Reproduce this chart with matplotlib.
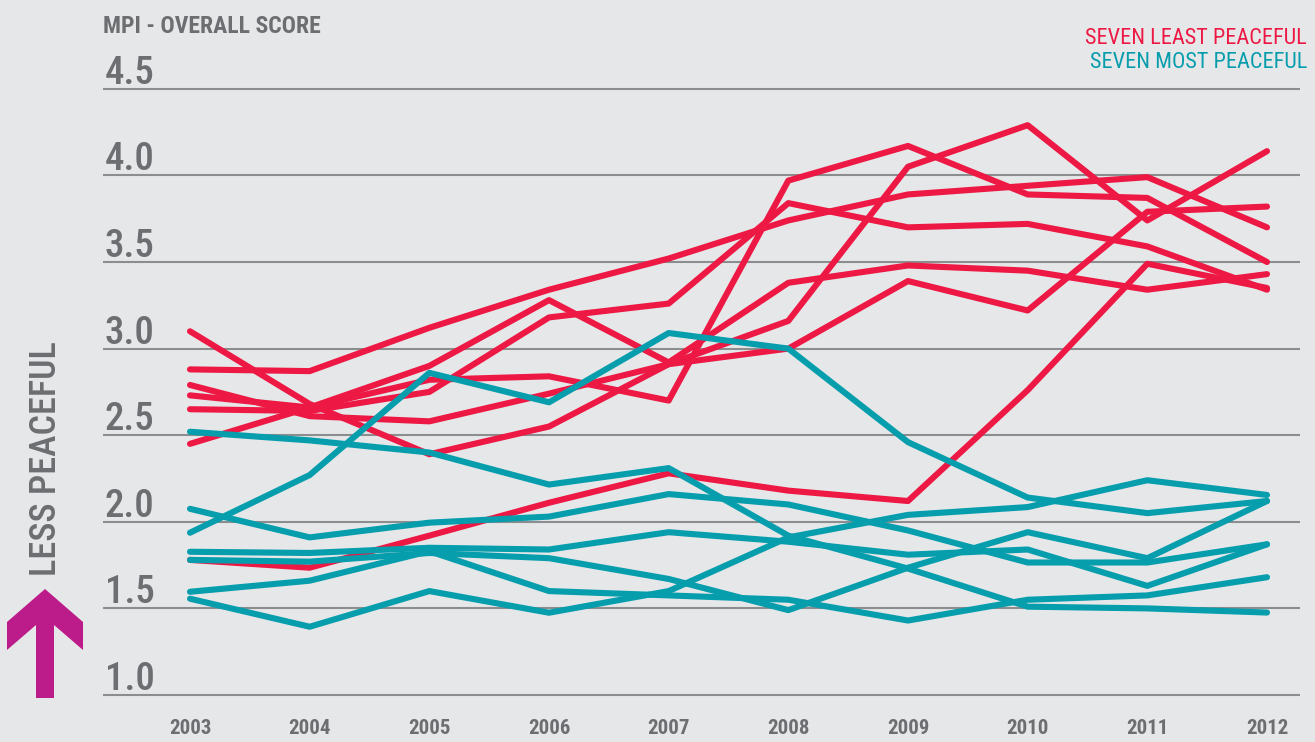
import matplotlib
matplotlib.use("Agg")
import matplotlib.pyplot as plt
from matplotlib import transforms
from matplotlib.patches import Polygon

# Datos (MPI - overall score)
anios = [2003, 2004, 2005, 2006, 2007, 2008, 2009, 2010, 2011, 2012]

# siete menos pacificos
menos_1 = [3.10, 2.68, 2.39, 2.55, 2.91, 3.16, 4.05, 4.29, 3.74, 4.14]
menos_2 = [2.88, 2.87, 3.12, 3.34, 3.52, 3.74, 3.89, 3.94, 3.99, 3.70]
menos_3 = [2.79, 2.61, 2.58, 2.74, 2.91, 3.00, 3.39, 3.22, 3.79, 3.82]
menos_4 = [2.73, 2.66, 2.82, 2.84, 2.70, 3.97, 4.17, 3.89, 3.87, 3.50]
menos_5 = [2.65, 2.64, 2.75, 3.18, 3.26, 3.84, 3.70, 3.72, 3.59, 3.34]
menos_6 = [2.45, 2.66, 2.90, 3.28, 2.92, 3.38, 3.48, 3.45, 3.34, 3.43]
menos_7 = [1.78, 1.735, 1.92, 2.11, 2.28, 2.18, 2.12, 2.76, 3.49, 3.35]

# siete mas pacificos
mas_1 = [2.52, 2.47, 2.40, 2.215, 2.31, 1.92, 1.73, 1.51, 1.50, 1.476]
mas_2 = [2.075, 1.91, 1.995, 2.03, 2.16, 2.10, 1.95, 1.765, 1.765, 1.87]
mas_3 = [1.937, 2.27, 2.86, 2.69, 3.09, 3.00, 2.46, 2.14, 2.05, 2.12]
mas_4 = [1.827, 1.82, 1.85, 1.84, 1.94, 1.885, 1.81, 1.84, 1.63, 1.87]
mas_5 = [1.78, 1.77, 1.82, 1.79, 1.67, 1.49, 1.735, 1.94, 1.79, 2.12]
mas_6 = [1.596, 1.66, 1.83, 1.60, 1.575, 1.55, 1.43, 1.55, 1.575, 1.68]
mas_7 = [1.556, 1.394, 1.60, 1.475, 1.60, 1.91, 2.04, 2.085, 2.24, 2.155]

ticks_y = [1.0, 1.5, 2.0, 2.5, 3.0, 3.5, 4.0, 4.5]
etiquetas_y = ["1.0", "1.5", "2.0", "2.5", "3.0", "3.5", "4.0", "4.5"]

ROJO = "#ed1944"
TEAL = "#069dad"
GRIS = "#6d6e71"
FONDO = "#e6e7e8"
MAGENTA = "#bc1c8a"

plt.rcParams['font.family'] = ['Roboto Condensed', 'DejaVu Sans']

W, H = 1315, 742
fig = plt.figure(figsize=(W / 100, H / 100), dpi=100, facecolor=FONDO)

# ejes en pixeles: x 103..1300, y 60..700
ax = fig.add_axes([103 / W, 42 / H, (1300 - 103) / W, 640 / H])
ax.set_facecolor(FONDO)
paso = (1267 - 190) / 9
ax.set_xlim(2003 - (190 - 103) / paso, 2012 + (1300 - 1267) / paso)
ax.set_ylim(1 - 5 / 173.2, 1 + 635 / 173.2)
for s in ax.spines.values():
    s.set_visible(False)
ax.set_xticks([])
ax.set_yticks([])

for v in ticks_y:
    ax.axhline(v, color="#8c8d8f", lw=1.5, zorder=1)

for serie in [menos_1, menos_2, menos_3, menos_4, menos_5, menos_6, menos_7]:
    ax.plot(anios, serie, color=ROJO, lw=4.4, solid_capstyle='round', zorder=3)
for serie in [mas_1, mas_2, mas_3, mas_4, mas_5, mas_6, mas_7]:
    ax.plot(anios, serie, color=TEAL, lw=4.4, solid_capstyle='round', zorder=4)

# etiquetas eje y, encima de la linea
trans = transforms.blended_transform_factory(fig.transFigure, ax.transData)
trans_off = transforms.offset_copy(trans, fig=fig, x=0, y=5, units='dots')
for v, t in zip(ticks_y, etiquetas_y):
    ax.text(105 / W, v, t, transform=trans_off, ha='left', va='baseline',
            fontsize=28, fontweight=500, color=GRIS, clip_on=False)

# etiquetas de anios
trans_x = transforms.blended_transform_factory(ax.transData, fig.transFigure)
for a in anios:
    ax.text(a, 1 - 734 / H, str(a), transform=trans_x, ha='center', va='baseline',
            fontsize=15, fontweight='bold', color=GRIS, clip_on=False)

fig.text(103 / W, 1 - 33 / H, "MPI - OVERALL SCORE", ha='left', va='baseline',
         fontsize=17, fontweight='bold', color=GRIS)
fig.text(1307 / W, 1 - 44 / H, "SEVEN LEAST PEACEFUL", ha='right', va='baseline',
         fontsize=16, fontweight='normal', color=ROJO)
fig.text(1307 / W, 1 - 68 / H, "SEVEN MOST PEACEFUL", ha='right', va='baseline',
         fontsize=16, fontweight='normal', color=TEAL)

fig.text(46 / W, 1 - 459 / H, "LESS PEACEFUL", rotation=90, ha='center', va='center',
         fontsize=26, fontweight=500, color=GRIS)

# flecha
pts = [(45, 589), (83, 622), (83, 650), (54, 625), (54, 698), (36, 698),
       (36, 625), (7, 650), (7, 622)]
pts = [(x / W, 1 - y / H) for x, y in pts]
fig.add_artist(Polygon(pts, closed=True, facecolor=MAGENTA, edgecolor='none',
                       transform=fig.transFigure))

fig.savefig("out.png", dpi=100, facecolor=FONDO)
